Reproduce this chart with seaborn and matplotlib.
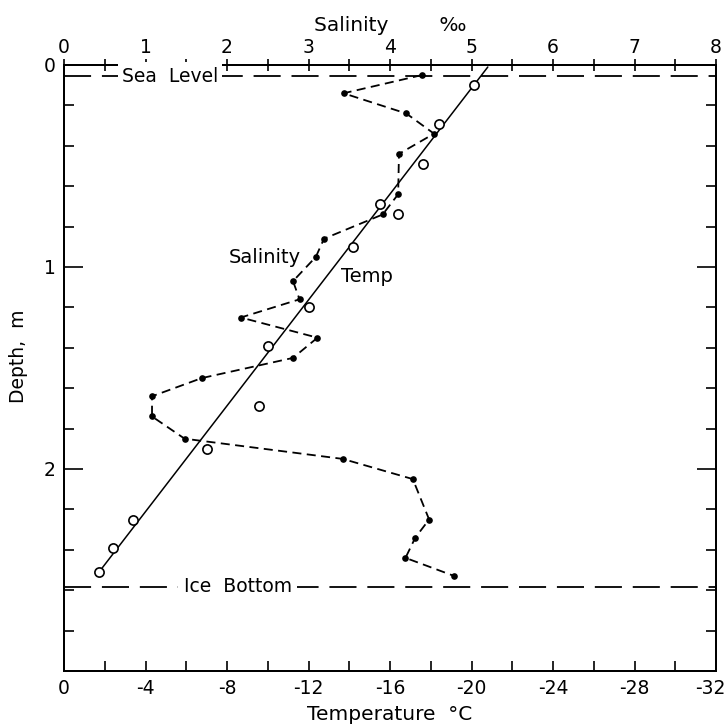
import matplotlib
matplotlib.use("Agg")
import matplotlib.pyplot as plt
import matplotlib.transforms as mtransforms
import seaborn as sns
import pandas as pd
from matplotlib.ticker import MultipleLocator, FixedLocator

# ---- data ----
sal_depth = [0.05, 0.14, 0.24, 0.34, 0.44, 0.64, 0.74, 0.86, 0.95, 1.07, 1.16, 1.25,
             1.35, 1.45, 1.55, 1.64, 1.74, 1.85, 1.95, 2.05, 2.25, 2.34, 2.44, 2.53]
sal_value = [4.39, 3.43, 4.20, 4.54, 4.11, 4.10, 3.91, 3.19, 3.09, 2.81, 2.89, 2.17,
             3.11, 2.81, 1.69, 1.08, 1.08, 1.48, 3.42, 4.28, 4.48, 4.31, 4.19, 4.79]

temp_depth = [0.10, 0.29, 0.49, 0.69, 0.74, 0.90, 1.20, 1.39, 1.69, 1.90, 2.25, 2.39, 2.51]
temp_value = [-20.1, -18.4, -17.6, -15.5, -16.4, -14.2, -12.0, -10.0, -9.55, -7.04, -3.4, -2.4, -1.72]

fit_temp = [-20.8, -1.72]
fit_depth = [0.01, 2.51]

sea_level = 0.055
ice_bottom = 2.584

temp_ticks = [0, -4, -8, -12, -16, -20, -24, -28, -32]
temp_labels = ["0", "-4", "-8", "-12", "-16", "-20", "-24", "-28", "-32"]
sal_ticks = [0, 1, 2, 3, 4, 5, 6, 7, 8]
depth_ticks = [0, 1, 2, 3]
depth_labels = ["0", "1", "2", ""]

sal_df = pd.DataFrame({"salinity": sal_value, "depth": sal_depth})
temp_df = pd.DataFrame({"temperature": temp_value, "depth": temp_depth})
fit_df = pd.DataFrame({"temperature": fit_temp, "depth": fit_depth})

sns.set_style("ticks")
plt.rcParams["font.family"] = ["DejaVu Sans"]
plt.rcParams["text.color"] = "black"
plt.rcParams["axes.labelcolor"] = "black"
plt.rcParams["xtick.color"] = "black"
plt.rcParams["ytick.color"] = "black"

fig = plt.figure(figsize=(7.28, 7.25), dpi=100)
ax = fig.add_axes([64 / 728, 54 / 725, 652 / 728, 606 / 725])
ax2 = ax.twiny()

# temperature
sns.lineplot(data=fit_df, x="temperature", y="depth", ax=ax, color="black",
             linewidth=1.1, sort=False, estimator=None, zorder=3)
sns.scatterplot(data=temp_df, x="temperature", y="depth", ax=ax, s=44,
                facecolor="white", edgecolor="black", linewidth=1.2, zorder=4)

# salinity
sns.lineplot(data=sal_df, x="salinity", y="depth", ax=ax2, color="black",
             linewidth=1.3, sort=False, estimator=None, orient="y",
             dashes=False, marker="o", markersize=4.8, markeredgewidth=0, zorder=5)
for l in ax2.get_lines():
    l.set_linestyle((0, (5, 3)))

# reference lines
for d in (sea_level, ice_bottom):
    ax.axhline(d, color="black", linewidth=1.3, linestyle=(0, (15, 6)), zorder=2)

ax.set_xlim(0, -32)
ax.set_ylim(3, 0)
ax2.set_xlim(0, 8)

ax.xaxis.set_major_locator(FixedLocator(temp_ticks))
ax.set_xticklabels(temp_labels)
ax.xaxis.set_minor_locator(MultipleLocator(2))
ax.yaxis.set_major_locator(FixedLocator(depth_ticks))
ax.set_yticklabels(depth_labels)
ax.yaxis.set_minor_locator(MultipleLocator(0.2))
ax2.xaxis.set_major_locator(FixedLocator(sal_ticks))
ax2.xaxis.set_minor_locator(MultipleLocator(0.5))

ax.tick_params(axis="x", which="both", direction="in", length=7, width=1.2,
               labelsize=13.5, pad=6, top=False)
ax.tick_params(axis="y", which="major", direction="in", length=14, width=1.2,
               labelsize=13.5, pad=6, right=True)
ax.tick_params(axis="y", which="minor", direction="in", length=7, width=1.2, right=True)
ax2.tick_params(axis="x", which="both", direction="inout", length=8, width=1.2,
                labelsize=13.5, pad=2)

# keep the last temperature label inside the figure
last = ax.get_xticklabels()[-1]
last.set_horizontalalignment("right")
last.set_transform(last.get_transform() +
                   mtransforms.ScaledTranslation(10 / 100, 0, fig.dpi_scale_trans))

for a in (ax, ax2):
    for s in a.spines.values():
        s.set_linewidth(1.4)
        s.set_color("black")

ax.set_xlabel("Temperature  °C", fontsize=14.5, labelpad=5)
ax2.set_xlabel("Salinity        ‰", fontsize=14.5, labelpad=5)
ax.set_ylabel("Depth,  m", fontsize=13.5)
ax.yaxis.set_label_coords(-0.055, 0.52)

# annotations
ax2.text(1.30, sea_level, "Sea  Level", fontsize=13.5, ha="center", va="center",
         bbox=dict(facecolor="white", edgecolor="none", pad=3), zorder=6)
ax2.text(2.13, ice_bottom, "Ice  Bottom", fontsize=13.5, ha="center", va="center",
         bbox=dict(facecolor="white", edgecolor="none", pad=4), zorder=6)
ax2.text(2.46, 0.955, "Salinity", fontsize=14, ha="center", va="center", zorder=6)
ax2.text(3.72, 1.045, "Temp", fontsize=14, ha="center", va="center", zorder=6)

fig.savefig("out.png", dpi=100, facecolor="white")
